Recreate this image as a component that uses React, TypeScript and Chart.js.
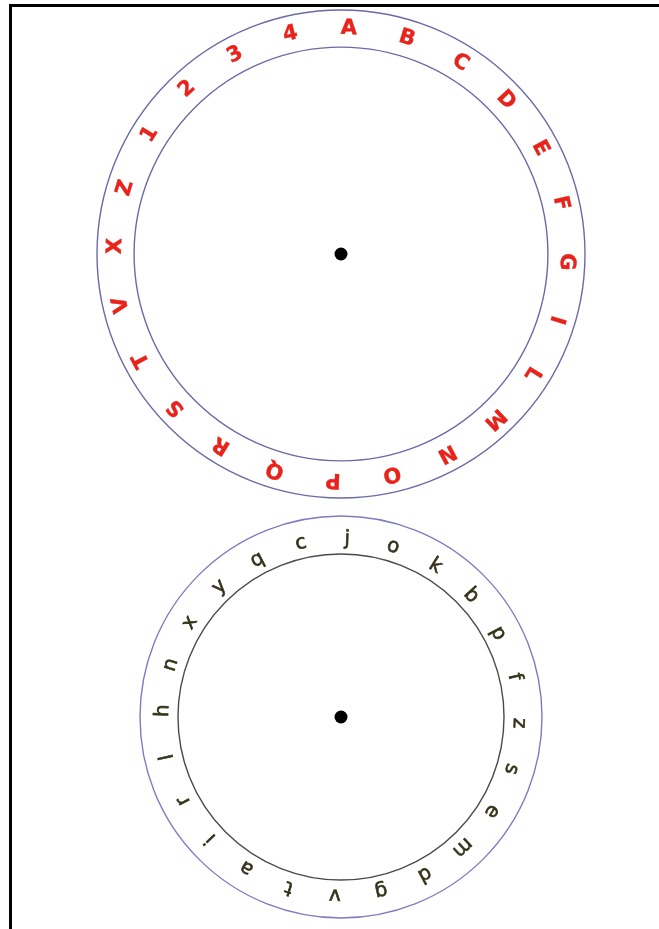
import React, { useEffect, useRef } from "react";
import { Chart, registerables } from "chart.js";

Chart.register(...registerables);

// Outer (red) wheel characters, clockwise from the top
const outerWheelLetters = ["A", "B", "C", "D", "E", "F", "G", "I", "L", "M", "N", "O", "P", "Q", "R", "S", "T", "V", "X", "Z", "1", "2", "3", "4"];
// Inner (dark) wheel characters, clockwise from the top
const innerWheelLetters = ["j", "o", "k", "b", "p", "f", "z", "s", "e", "m", "d", "g", "v", "t", "a", "i", "r", "l", "h", "n", "x", "y", "q", "c"];
// Each sector has equal weight
const outerSectorValues = [1, 1, 1, 1, 1, 1, 1, 1, 1, 1, 1, 1, 1, 1, 1, 1, 1, 1, 1, 1, 1, 1, 1, 1];
const innerSectorValues = [1, 1, 1, 1, 1, 1, 1, 1, 1, 1, 1, 1, 1, 1, 1, 1, 1, 1, 1, 1, 1, 1, 1, 1];

type WheelOpts = {
  outerColor: string;
  innerColor: string;
  textColor: string;
  font: string;
  lineWidth: number;
  textOffset: number;
  textStroke: number;
};

const wheelPlugin = {
  id: "wheel",
  afterDatasetsDraw(chart: any, _args: any, opts: WheelOpts) {
    const meta = chart.getDatasetMeta(0);
    const arcs = meta.data;
    if (!arcs.length) return;
    const ctx = chart.ctx;
    const first = arcs[0];
    const cx = first.x;
    const cy = first.y;
    const R = first.outerRadius;
    const r = first.innerRadius;
    ctx.save();
    ctx.lineWidth = opts.lineWidth;
    ctx.strokeStyle = opts.outerColor;
    ctx.beginPath();
    ctx.arc(cx, cy, R, 0, Math.PI * 2);
    ctx.stroke();
    ctx.strokeStyle = opts.innerColor;
    ctx.beginPath();
    ctx.arc(cx, cy, r, 0, Math.PI * 2);
    ctx.stroke();
    // center pin
    ctx.fillStyle = "#000";
    ctx.beginPath();
    ctx.arc(cx, cy, 6.5, 0, Math.PI * 2);
    ctx.fill();
    // letters
    const labels = chart.data.labels as string[];
    const tr = (R + r) / 2 + opts.textOffset;
    ctx.fillStyle = opts.textColor;
    ctx.strokeStyle = opts.textColor;
    ctx.lineWidth = opts.textStroke;
    ctx.lineJoin = "round";
    ctx.font = opts.font;
    ctx.textAlign = "center";
    ctx.textBaseline = "middle";
    arcs.forEach((arc: any, i: number) => {
      const a = (arc.startAngle + arc.endAngle) / 2;
      const x = cx + Math.cos(a) * tr;
      const y = cy + Math.sin(a) * tr;
      ctx.save();
      ctx.translate(x, y);
      ctx.rotate(a + Math.PI / 2);
      ctx.fillText(labels[i], 0, 0);
      if (opts.textStroke > 0) ctx.strokeText(labels[i], 0, 0);
      ctx.restore();
    });
    ctx.restore();
  },
};

function Wheel(props: {
  labels: string[];
  values: number[];
  size: number;
  cutout: string;
  left: number;
  top: number;
  wheel: WheelOpts;
}) {
  const ref = useRef<HTMLCanvasElement>(null);
  useEffect(() => {
    if (!ref.current) return;
    const chart = new Chart(ref.current, {
      type: "doughnut",
      data: {
        labels: props.labels,
        datasets: [
          {
            data: props.values,
            backgroundColor: "rgba(0,0,0,0)",
            borderWidth: 0,
          },
        ],
      },
      options: {
        responsive: false,
        animation: false,
        events: [],
        rotation: -5.5,
        cutout: props.cutout,
        layout: { padding: 6 },
        plugins: {
          legend: { display: false },
          tooltip: { enabled: false },
          wheel: props.wheel,
        } as any,
      },
      plugins: [wheelPlugin],
    });
    return () => chart.destroy();
  }, []);
  return (
    <canvas
      ref={ref}
      width={props.size}
      height={props.size}
      style={{ position: "absolute", left: props.left, top: props.top, width: props.size, height: props.size }}
    />
  );
}

export default function App() {
  return (
    <div style={{ position: "fixed", left: 0, top: 0, width: 659, height: 929, background: "#fff", overflow: "hidden" }}>
      <div
        style={{
          position: "absolute",
          left: 9,
          top: 4,
          width: 660,
          height: 940,
          borderTop: "3px solid #000",
          borderLeft: "3px solid #000",
        }}
      />
      <Wheel
        labels={outerWheelLetters}
        values={outerSectorValues}
        size={500}
        cutout="84.8%"
        left={91}
        top={4}
        wheel={{
          outerColor: "#6a6aa8",
          innerColor: "#6a6aa8",
          textColor: "#e8231b",
          font: "bold 21px 'DejaVu Sans'",
          lineWidth: 1.4,
          textOffset: 0,
          textStroke: 0.4,
        }}
      />
      <Wheel
        labels={innerWheelLetters}
        values={innerSectorValues}
        size={414}
        cutout="81.1%"
        left={134}
        top={510}
        wheel={{
          outerColor: "#7c7cc0",
          innerColor: "#4a4a4a",
          textColor: "#35321a",
          font: "20px 'DejaVu Sans'",
          lineWidth: 1.4,
          textOffset: -4,
          textStroke: 0.6,
        }}
      />
    </div>
  );
}
